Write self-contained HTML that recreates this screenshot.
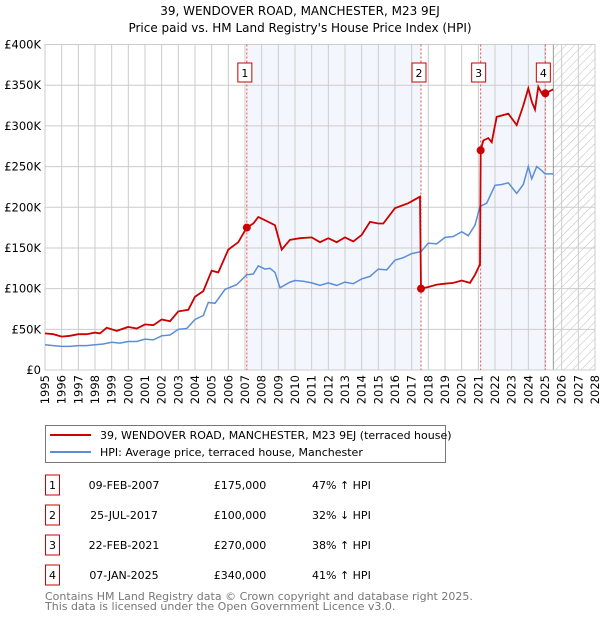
<!DOCTYPE html>
<html><head><meta charset="utf-8"><style>
body{margin:0;background:#fff;font-family:"DejaVu Sans","Liberation Sans",sans-serif;}
svg text{font-family:"DejaVu Sans","Liberation Sans",sans-serif;}
</style></head><body>
<svg id="chart" width="600" height="620" xmlns="http://www.w3.org/2000/svg">
<defs><pattern id="hatch" width="6" height="6" patternUnits="userSpaceOnUse" patternTransform="rotate(45)"><line x1="0" y1="0" x2="0" y2="6" stroke="#bbb" stroke-width="1"/></pattern></defs>
<text x="300" y="15" text-anchor="middle" font-size="12">39, WENDOVER ROAD, MANCHESTER, M23 9EJ</text>
<text x="300" y="32" text-anchor="middle" font-size="12">Price paid vs. HM Land Registry's House Price Index (HPI)</text>
<g id="plot"></g>
<g>
<rect x="45.5" y="425.5" width="400" height="37" fill="#fff" stroke="#777"/>
<line x1="50" y1="435" x2="91" y2="435" stroke="#cc0000" stroke-width="2"/>
<text x="100" y="439" font-size="11">39, WENDOVER ROAD, MANCHESTER, M23 9EJ (terraced house)</text>
<line x1="50" y1="452" x2="91" y2="452" stroke="#5b8ed6" stroke-width="2"/>
<text x="100" y="456" font-size="11">HPI: Average price, terraced house, Manchester</text>
</g>
<g id="table" font-size="11"></g>
<text x="45" y="600" font-size="11" fill="#777">Contains HM Land Registry data © Crown copyright and database right 2025.</text>
<text x="45" y="610" font-size="11" fill="#777">This data is licensed under the Open Government Licence v3.0.</text>
</svg>
<script>
const hpiYears=[1995,1995.5,1996,1996.5,1997,1997.5,1998,1998.5,1999,1999.5,2000,2000.5,2001,2001.5,2002,2002.5,2003,2003.5,2004,2004.5,2004.8,2005.2,2005.8,2006.5,2007.1,2007.5,2007.8,2008.2,2008.5,2008.8,2009.1,2009.7,2010,2010.5,2011,2011.5,2012,2012.5,2013,2013.5,2014,2014.5,2015,2015.5,2016,2016.5,2017,2017.56,2018,2018.5,2019,2019.5,2020,2020.4,2020.8,2021.1,2021.5,2022,2022.4,2022.8,2023.3,2023.7,2024,2024.2,2024.5,2024.8,2025,2025.5];
const hpiValues=[31,30,29,29,30,30,31,32,34,33,35,35,38,37,42,43,50,51,62,67,83,82,99,105,117,118,128,124,125,120,101,108,110,109,107,104,107,104,108,106,112,115,124,123,135,138,143,145.5,156,155,163,164,170,165,178,201,205,227,228,230,217,228,250,235,250,245,241,241];
const paidYears=[1995,1995.5,1996,1996.5,1997,1997.5,1998,1998.3,1998.7,1999.3,2000,2000.5,2001,2001.5,2002,2002.5,2003,2003.6,2004,2004.5,2005,2005.4,2006,2006.6,2007.1,2007.5,2007.8,2008.3,2008.8,2009.2,2009.7,2010.3,2011,2011.5,2012,2012.5,2013,2013.5,2014,2014.5,2015,2015.3,2016,2016.8,2017.5,2017.56,2018,2018.5,2019,2019.5,2020,2020.5,2020.8,2021.1,2021.14,2021.3,2021.6,2021.8,2022.1,2022.8,2023.3,2023.7,2024,2024.2,2024.4,2024.6,2024.8,2025.02,2025.5];
const paidValues=[45,44,41,42,44,44,46,45,52,48,53,51,56,55,62,60,72,74,90,97,122,120,148,157,175,180,188,183,178,148,160,162,163,157,162,157,163,158,166,182,180,180,199,205,213,100,102,105,106,107,110,107,117,130,270,282,285,280,311,315,301,325,346,330,320,348,340,340,345];
const sales=[{n:"1",y:2007.11,v:175,date:"09-FEB-2007",price:"£175,000",hpi:"47% ↑ HPI"},{n:"2",y:2017.56,v:100,date:"25-JUL-2017",price:"£100,000",hpi:"32% ↓ HPI"},{n:"3",y:2021.14,v:270,date:"22-FEB-2021",price:"£270,000",hpi:"38% ↑ HPI"},{n:"4",y:2025.02,v:340,date:"07-JAN-2025",price:"£340,000",hpi:"41% ↑ HPI"}];
const yTicks=[0,50,100,150,200,250,300,350,400];
const yTickLabels=["£0","£50K","£100K","£150K","£200K","£250K","£300K","£350K","£400K"];
const xMin=1995,xMax=2028,dataEnd=2025.5;
const L=45,R=595,T=44.5,B=370;
const X=y=>L+(y-xMin)/(xMax-xMin)*(R-L);
const Y=v=>B-v/400*(B-T);
const NS="http://www.w3.org/2000/svg";
const plot=document.getElementById('plot');
function mk(tag,attrs,parent){const e=document.createElementNS(NS,tag);for(const k in attrs)e.setAttribute(k,attrs[k]);(parent||plot).appendChild(e);return e;}
for(const [a,b] of [[0,1],[2,3]]){
 const r=mk('rect',{x:X(sales[a].y),y:T,width:X(sales[b].y)-X(sales[a].y),height:B-T,fill:'#eef3fc',opacity:0.7});
 
 
}
const h=mk('rect',{x:X(dataEnd),y:T,width:R-X(dataEnd),height:B-T,fill:'url(#hatch)'});


for(let i=0;i<yTicks.length;i++){
 const g=mk('line',{x1:L,x2:R,y1:Y(yTicks[i]),y2:Y(yTicks[i]),stroke:'#ccc'});
 
 
 const t=mk('text',{x:L-4,y:Y(yTicks[i])+4,'text-anchor':'end','font-size':'11.5'});
 t.textContent=yTickLabels[i];
 
 
}
for(let yr=xMin;yr<=xMax;yr++){
 const g=mk('line',{x1:X(yr),x2:X(yr),y1:T,y2:B,stroke:'#ccc'});
 
 
 const t=mk('text',{x:0,y:0,'text-anchor':'end','font-size':'11.5',transform:`translate(${X(yr)+4},${B+5}) rotate(-90)`});
 t.textContent=yr;
 
 
}
mk('line',{x1:X(dataEnd),x2:X(dataEnd),y1:T,y2:B,stroke:'#999'});
mk('rect',{x:L,y:T,width:R-L,height:B-T,fill:'none',stroke:'#ccc'});
sales.forEach(s=>{
 const l=mk('line',{x1:X(s.y),x2:X(s.y),y1:T,y2:B,stroke:'#e05050','stroke-dasharray':'2,2'});
 
 
 const bx=mk('rect',{x:X(s.y)-7-2,y:63,width:14,height:19,fill:'#fff',stroke:'#cc0000'});
 
 
 const t=mk('text',{x:X(s.y)-2,y:77,'text-anchor':'middle','font-size':'11'});
 t.textContent=s.n;
 
 
});
function path(xs,vs){return xs.map((x,i)=>(i?'L':'M')+X(x).toFixed(1)+','+Y(vs[i]).toFixed(1)).join('');}
const hp=mk('path',{d:path(hpiYears,hpiValues),fill:'none',stroke:'#5b8ed6','stroke-width':1.5});


const pp=mk('path',{d:path(paidYears,paidValues),fill:'none',stroke:'#cc0000','stroke-width':1.8});


sales.forEach(s=>{
 const c=mk('circle',{cx:X(s.y),cy:Y(s.v),r:4,fill:'#cc0000'});
 
 
});
const tb=document.getElementById('table');
sales.forEach((s,i)=>{
 const cy=485+i*30;
 const r=mk('rect',{x:45.5,y:cy-10,width:14,height:20,fill:'#fff',stroke:'#cc0000'},tb);
 
 
 const t1=mk('text',{x:52.5,y:cy+4,'text-anchor':'middle'},tb);t1.textContent=s.n;
 
 
 const t2=mk('text',{x:124,y:cy+4,'text-anchor':'middle'},tb);t2.textContent=s.date;
 
 
 const t3=mk('text',{x:240,y:cy+4,'text-anchor':'middle'},tb);t3.textContent=s.price;
 
 
 const t4=mk('text',{x:312,y:cy+4},tb);t4.textContent=s.hpi;
 
 
});
</script>
</body></html>
